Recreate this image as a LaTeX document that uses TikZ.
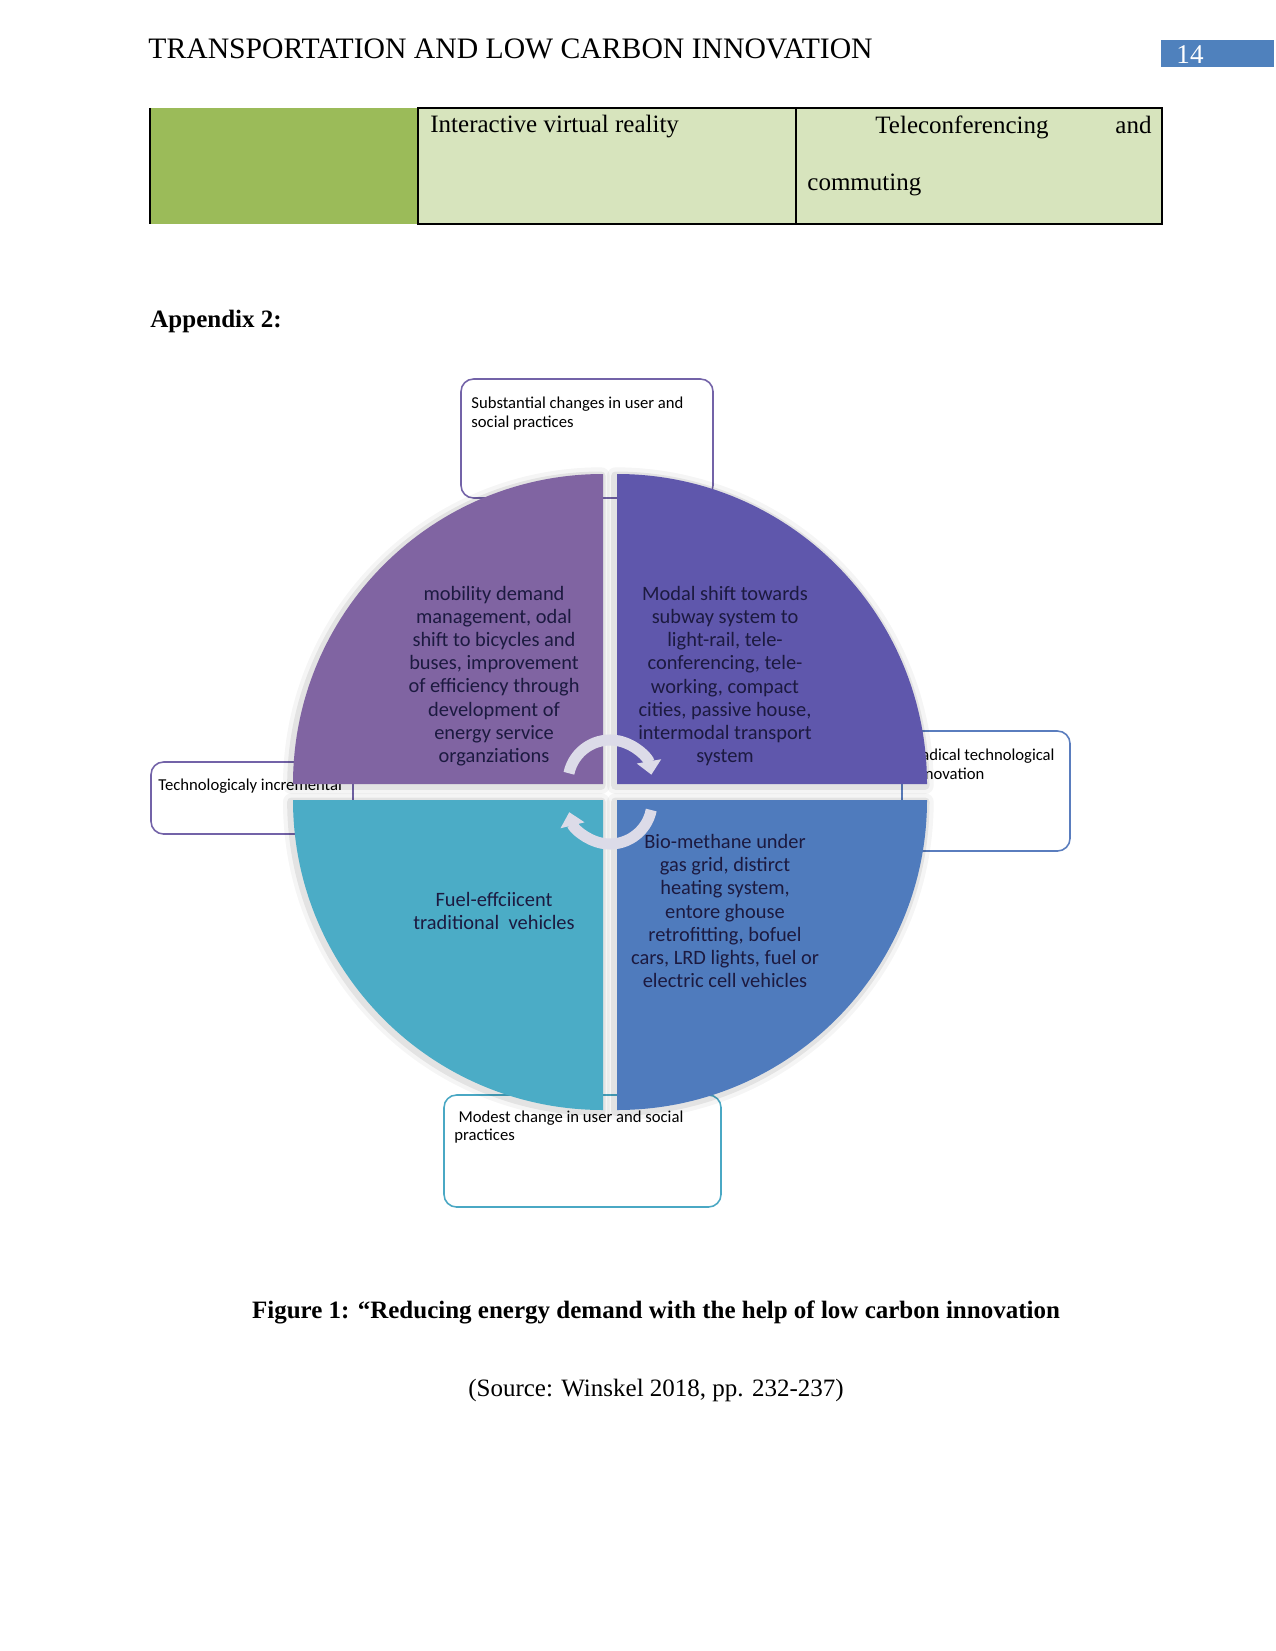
\documentclass[tikz,border=0pt]{standalone}
\usepackage{fontspec}
\setmainfont{Liberation Serif}
\newfontfamily\smartfont{Carlito}
\usetikzlibrary{arrows.meta}
\definecolor{hdrblue}{HTML}{4F81BD}
\definecolor{cellgreen}{HTML}{9BBB59}
\definecolor{celllight}{HTML}{D7E4BD}
\definecolor{quadpurple}{HTML}{8064A2}
\definecolor{quadviolet}{HTML}{5F57AC}
\definecolor{quadblue}{HTML}{4F7BBD}
\definecolor{quadteal}{HTML}{4BACC6}
\definecolor{quadink}{HTML}{1C1A40}
\definecolor{cyclegray}{HTML}{DCDBE8}
\definecolor{boxpurple}{HTML}{7363A8}
\definecolor{boxblue}{HTML}{5A7DBE}
\definecolor{boxteal}{HTML}{4AA8C4}

\begin{document}
\begin{tikzpicture}[x=0.48pt,y=-0.48pt,
  font=\fontsize{12}{14.5}\selectfont,
  note/.style={line width=0.75pt, rounded corners=6pt, fill=white},
  notetext/.style={font=\smartfont\fontsize{8}{9.1}\selectfont, align=left, anchor=north west, inner sep=0pt},
  quad/.style={preaction={draw=black, draw opacity=0.04, line width=8pt, line join=round, transform canvas={shift={(-0.8pt,-0.8pt)}}},
    preaction={draw=black, draw opacity=0.07, line width=4pt, line join=round, transform canvas={shift={(-0.8pt,-0.8pt)}}}},
  quadtext/.style={font=\smartfont\fontsize{9.8}{11.1}\selectfont, text=quadink, align=center, inner sep=0pt},
  cyc/.style={cyclegray, line width=5.3pt, -{Triangle[length=6.5pt,width=11.5pt]}}]
\fill[white] (0,0) rectangle (1275,1651);
\useasboundingbox (0,0) rectangle (1275,1651);

% header
\node[anchor=west, inner sep=0pt, font=\fontsize{14.25}{16}\selectfont] (hd) at (148,49) {TRANSPORTATION AND LOW CARBON INNOVATION};
\fill[hdrblue] (1161,40) rectangle (1274,67);
\node[text=white, inner sep=0pt, font=\fontsize{13}{15}\selectfont] (pg) at (1190,55) {14};

% table row
\fill[cellgreen] (150,108) rectangle (418,224);
\fill[celllight] (418,108) rectangle (1162,224);
\draw[line width=0.6pt] (418,108) rectangle (1162,224) (796,108) -- (796,224);
\draw[line width=1pt] (150,108) -- (150,224);
\node[anchor=west, inner sep=0pt] (ivr) at (430,127) {Interactive virtual reality};
\node[anchor=west, inner sep=0pt] (tel) at (875,127) {\makebox[132.5pt]{Teleconferencing\hfill and}};
\node[anchor=west, inner sep=0pt] (com) at (807,185) {commuting};

\node[anchor=west, inner sep=0pt, font=\fontsize{12}{14.5}\bfseries] (apx) at (150,321) {Appendix 2:};

% outer boxes
\draw[note, draw=boxpurple] (461,379) rectangle (713,498);
\draw[note, draw=boxpurple] (151,762) rectangle (353,834);
\draw[note, draw=boxblue] (902,731) rectangle (1070,851);
\draw[note, draw=boxteal] (444,1095) rectangle (721,1207);
\node[notetext] (usr) at (471,397) {Substantial changes in user and\\social practices};
\node[notetext, anchor=west] (inc) at (158,786) {Technologicaly incremental};
\node[notetext] (rad) at (912,749) {Radical technological\\innovation};

% quadrants
\path[quad, fill=quadpurple] (603,784) -- ++(-310,0) arc[start angle=180, end angle=270, radius=310] -- cycle;
\path[quad, fill=quadviolet] (617,784) -- ++(0,-310) arc[start angle=270, end angle=360, radius=310] -- cycle;
\path[quad, fill=quadblue] (617,800) -- ++(310,0) arc[start angle=0, end angle=90, radius=310] -- cycle;
\path[quad, fill=quadteal] (603,800) -- ++(0,310) arc[start angle=90, end angle=180, radius=310] -- cycle;

\node[quadtext] (mob) at (494,676) {mobility demand\\management, odal\\shift to bicycles and\\buses, improvement\\of efficiency through\\development of\\energy service\\organziations};
\node[quadtext] (mod) at (725,676) {Modal shift towards\\subway system to\\light-rail, tele-\\conferencing, tele-\\working, compact\\cities, passive house,\\intermodal transport\\system};
\node[quadtext] (fuel) at (494,911) {Fuel-effciicent\\traditional\ \ vehicles};
\node[quadtext] (bio) at (725,911) {Bio-methane under\\gas grid, distirct\\heating system,\\entore ghouse\\retrofitting, bofuel\\cars, LRD lights, fuel or\\electric cell vehicles};

% cycle arrows
\draw[cyc] (610,782) ++(192:42) arc[start angle=192, end angle=350, radius=42];
\draw[cyc] (610,802) ++(11:42) arc[start angle=11, end angle=166, radius=42];

\node[notetext] (mdst) at (454,1110) {\hspace{2pt}Modest change in user and social\\practices};

% caption
\node[font=\fontsize{12}{14.5}\bfseries] (cap) at (656,1312) {Figure 1: “Reducing energy demand with the help of low carbon innovation};
\node (src) at (656,1390) {(Source: Winskel 2018, pp. 232-237)};
\end{tikzpicture}
\end{document}
